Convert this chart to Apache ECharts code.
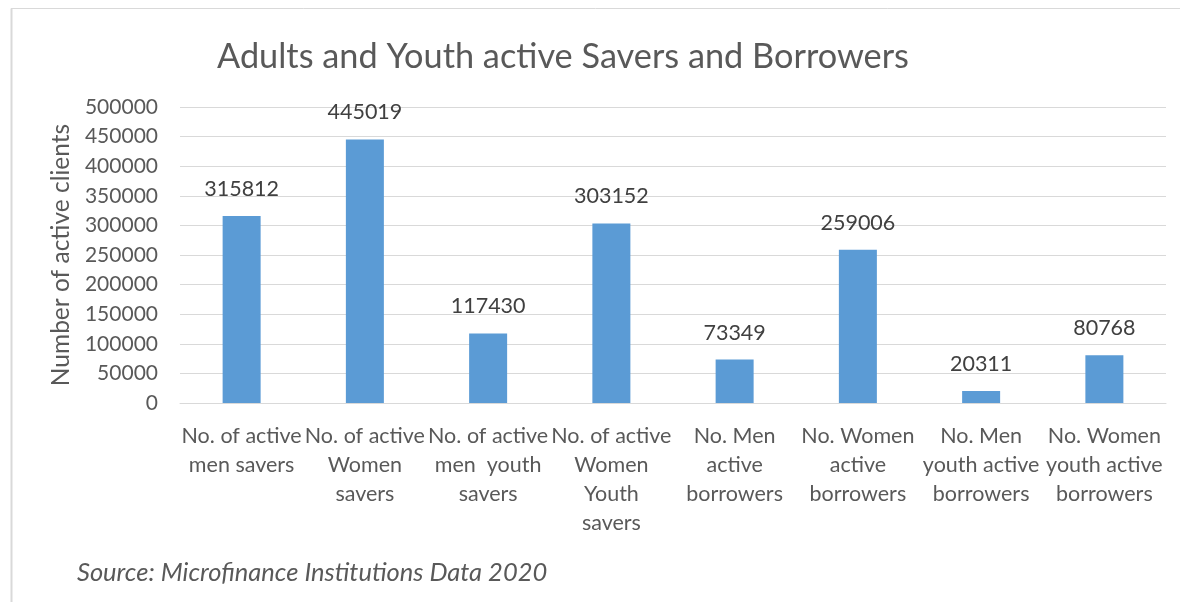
<!DOCTYPE html>
<html><head><meta charset="utf-8">
<script src="https://cdn.jsdelivr.net/npm/echarts@6/dist/echarts.min.js"></script>
<style>html,body{margin:0;padding:0;background:#fff}#c{width:1180px;height:602px}</style>
</head><body><div id="c"></div>
<script>
const categories = [
  "No. of active\nmen savers",
  "No. of active\nWomen\nsavers",
  "No. of active\nmen  youth\nsavers",
  "No. of active\nWomen\nYouth\nsavers",
  "No. Men\nactive\nborrowers",
  "No. Women\nactive\nborrowers",
  "No. Men\nyouth active\nborrowers",
  "No. Women\nyouth active\nborrowers"
];
const values = [315812, 445019, 117430, 303152, 73349, 259006, 20311, 80768];
const yTicks = { min: 0, max: 500000, interval: 50000 };
const titleText = "Adults and Youth active Savers and Borrowers";
const yAxisName = "Number of active clients";
const sourceText = "Source: Microfinance Institutions Data 2020";

const FONT = "Lato";
const TXT = "#595959";
const chart = echarts.init(document.getElementById('c'), null, {renderer: 'canvas'});
chart.setOption({
  animation: false,
  backgroundColor: '#ffffff',
  title: {
    text: titleText, left: 558, top: 35, textAlign: 'center',
    textStyle: { fontFamily: FONT, fontSize: 34.3, fontWeight: 'normal', color: TXT }
  },
  grid: { left: 180, right: 14, top: 107, bottom: 199, containLabel: false },
  xAxis: {
    type: 'category', data: categories,
    axisLine: { show: true, lineStyle: { color: '#d9d9d9' } },
    axisTick: { show: false },
    axisLabel: { interval: 0, fontFamily: FONT, fontSize: 21.5, color: TXT, lineHeight: 29, margin: 19 }
  },
  yAxis: {
    type: 'value', min: yTicks.min, max: yTicks.max, interval: yTicks.interval,
    name: yAxisName, nameLocation: 'middle', nameGap: 103, nameRotate: 90,
    nameTextStyle: { fontFamily: FONT, fontSize: 24.5, color: TXT },
    axisLine: { show: false }, axisTick: { show: false },
    axisLabel: { fontFamily: FONT, fontSize: 21, color: TXT, margin: 22, formatter: v => String(v) },
    splitLine: { lineStyle: { color: '#d9d9d9', width: 1 } }
  },
  series: [{
    type: 'bar', data: values, barWidth: 38,
    itemStyle: { color: '#5B9BD5' },
    label: { show: true, position: 'top', distance: 16, fontFamily: FONT, fontSize: 21.5, color: '#404040' }
  }],
  graphic: [
    { type: 'line', shape: { x1: 11.5, y1: 8.5, x2: 11.5, y2: 602 }, style: { stroke: '#d9d9d9', lineWidth: 2 } },
    { type: 'line', shape: { x1: 11, y1: 8.5, x2: 1180, y2: 8.5 }, style: { stroke: '#d9d9d9', lineWidth: 1 } },
    { type: 'text', left: 77, top: 560, style: { text: sourceText, fontFamily: FONT, fontStyle: 'italic', fontSize: 25.5, fill: TXT } }
  ]
});
</script></body></html>
